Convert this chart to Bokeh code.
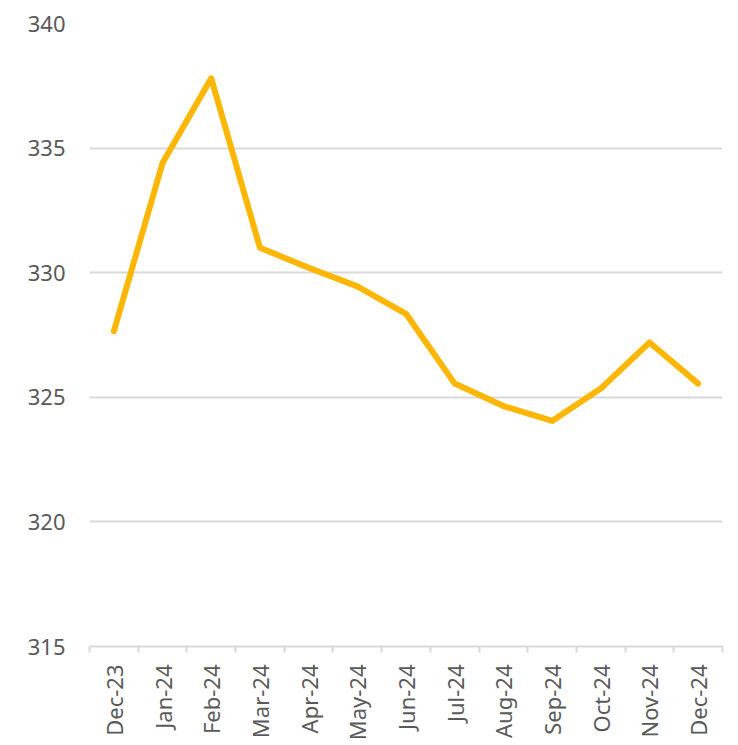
from bokeh.plotting import figure
from bokeh.models import FixedTicker, Range1d
from bokeh.embed import file_html
from bokeh.resources import INLINE

categories = ["Dec-23", "Jan-24", "Feb-24", "Mar-24", "Apr-24", "May-24", "Jun-24",
              "Jul-24", "Aug-24", "Sep-24", "Oct-24", "Nov-24", "Dec-24"]
values = [327.65, 334.4, 337.8, 331.0, 330.2, 329.45, 328.35,
          325.55, 324.65, 324.05, 325.35, 327.2, 325.55]
y_ticks = [315, 320, 325, 330, 335, 340]

xs = list(range(len(categories)))

p = figure(width=730, height=743, output_backend="svg", toolbar_location=None,
           x_range=Range1d(-0.5, len(categories) - 0.5), y_range=Range1d(315, 340),
           min_border_left=89, min_border_right=8, min_border_top=23, min_border_bottom=90)
p.outline_line_color = None
p.background_fill_color = "white"

p.line(xs, values, line_color="#FFB600", line_width=6, line_cap="round", line_join="round")

font = "Noto Sans"
# x axis
p.xaxis.ticker = FixedTicker(ticks=xs, minor_ticks=[i - 0.5 for i in range(len(categories) + 1)])
p.xaxis.major_label_overrides = {i: c for i, c in enumerate(categories)}
p.xaxis.major_label_orientation = 1.5708
p.xaxis.major_tick_line_color = None
p.xaxis.major_tick_out = 0
p.xaxis.major_tick_in = 0
p.xaxis.minor_tick_line_color = "#d9d9d9"
p.xaxis.minor_tick_line_width = 2
p.xaxis.minor_tick_out = 6
p.xaxis.minor_tick_in = 0
p.xaxis.axis_line_color = "#d9d9d9"
p.xaxis.axis_line_width = 2
p.xaxis.major_label_text_font = font
p.xaxis.major_label_text_font_size = "22px"
p.xaxis.major_label_text_color = "#595959"
p.xaxis.major_label_standoff = 12

# y axis
p.yaxis.ticker = FixedTicker(ticks=y_ticks)
p.yaxis.axis_line_color = None
p.yaxis.major_tick_line_color = None
p.yaxis.minor_tick_line_color = None
p.yaxis.major_tick_out = 0
p.yaxis.major_label_text_font = font
p.yaxis.major_label_text_font_size = "22px"
p.yaxis.major_label_text_color = "#595959"
p.yaxis.major_label_standoff = 24

p.xgrid.grid_line_color = None
p.ygrid.grid_line_color = "#d9d9d9"
p.ygrid.grid_line_width = 2

open("out.html", "w").write(file_html(p, INLINE))
